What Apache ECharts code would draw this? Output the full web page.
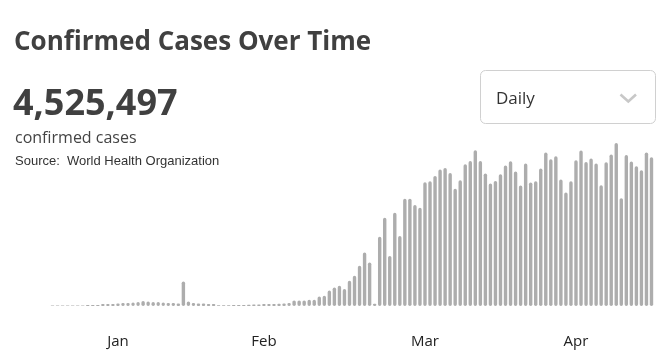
<!DOCTYPE html>
<html>
<head>
<meta charset="utf-8">
<script src="https://cdn.jsdelivr.net/npm/echarts@6/dist/echarts.min.js"></script>
<style>
html,body{margin:0;padding:0;background:#fff;}
#chart{width:665px;height:363px;}
</style>
</head>
<body>
<div id="chart"></div>
<script>
// Daily confirmed cases
const dailyCases = [
  300, 300, 300, 300, 300, 300, 360, 600, 600, 600,
  1200, 1200, 1200, 1500, 1800, 1800, 2100, 2400, 3000, 2700,
  2400, 2400, 2100, 1800, 1800, 1500, 14700, 2700, 1800, 1500,
  1500, 1200, 1200, 480, 480, 480, 600, 600, 600, 720,
  900, 900, 1200, 1200, 1200, 1320, 1500, 1800, 3360, 3360,
  3360, 3780, 3780, 5760, 6180, 9360, 11160, 12180, 10200, 15180,
  18180, 24180, 32160, 26160, 1380, 41760, 53160, 30180, 56160, 42180,
  64560, 64560, 60780, 59160, 74580, 75180, 78360, 82200, 83160, 80160,
  70560, 75780, 85380, 87360, 93780, 87360, 79800, 73800, 75360, 79380,
  84600, 87180, 81000, 72600, 85800, 74400, 75180, 82800, 92400, 88380,
  90180, 76200, 68400, 75180, 87780, 93600, 86760, 88800, 85800, 72780,
  86580, 91200, 98160, 64980, 90960, 87000, 84180, 81780, 92400, 89580
];
// Day categories
const days = dailyCases.map((_, i) => 'Day ' + (i + 1));
// Month tick labels (category -> label)
const monthTicks = { 'Day 14': 'Jan', 'Day 43': 'Feb', 'Day 75': 'Mar', 'Day 105': 'Apr' };

const titleText = 'Confirmed Cases Over Time';
const totalText = '4,525,497';
const totalLabel = 'confirmed cases';
const sourceText = 'Source:  World Health Organization';
const dropdownText = 'Daily';

const chart = echarts.init(document.getElementById('chart'), null, { renderer: 'canvas' });
chart.setOption({
  animation: false,
  backgroundColor: '#ffffff',
  grid: { left: 50, right: 11, top: 140, bottom: 57 },
  xAxis: {
    type: 'category',
    data: days,
    boundaryGap: true,
    axisLine: { show: false },
    axisTick: { show: false },
    axisLabel: {
      interval: (idx, val) => monthTicks[val] !== undefined,
      formatter: (val) => monthTicks[val] || '',
      color: '#222222',
      fontFamily: 'Open Sans',
      fontSize: 15,
      margin: 28
    }
  },
  yAxis: {
    type: 'value',
    min: 0,
    max: 100000,
    show: false,
    splitLine: { show: false }
  },
  series: [{
    type: 'bar',
    data: dailyCases,
    barWidth: 3.4,
    itemStyle: { color: '#adadad', borderRadius: 1.7 }
  }],
  graphic: [
    { type: 'text', x: 14, y: 43, style: { text: titleText, font: 'bold 26px "Open Sans"', fill: '#404040', verticalAlign: 'middle' } },
    { type: 'text', x: 13, y: 105, style: { text: totalText, font: 'bold 36px "Open Sans"', fill: '#404040', verticalAlign: 'middle' } },
    { type: 'text', x: 15, y: 138, style: { text: totalLabel, font: '16px "Open Sans"', fill: '#444444', verticalAlign: 'middle' } },
    { type: 'text', x: 15, y: 161.5, style: { text: sourceText, font: '13px "Liberation Sans"', fill: '#333333', verticalAlign: 'middle' } },
    { type: 'rect', shape: { x: 480.5, y: 70.5, width: 175, height: 53, r: 5 }, style: { fill: '#ffffff', stroke: '#d0d0d0', lineWidth: 1 } },
    { type: 'text', x: 496, y: 99, style: { text: dropdownText, font: '17px "Open Sans"', fill: '#333333', verticalAlign: 'middle' } },
    { type: 'polyline', shape: { points: [[620.5, 94.5], [628.3, 101.5], [636, 94.5]] }, style: { stroke: '#c8c8c8', lineWidth: 2.6, fill: null } }
  ]
});
</script>
</body>
</html>
